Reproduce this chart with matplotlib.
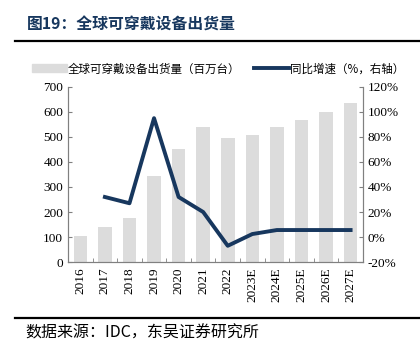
import numpy as np
import matplotlib
matplotlib.use('Agg')
import matplotlib.pyplot as plt
from matplotlib.patches import Patch
from matplotlib.lines import Line2D

plt.rcParams['font.family'] = ['Liberation Serif', 'Noto Sans CJK SC']

# 数据
years = ['2016', '2017', '2018', '2019', '2020', '2021', '2022',
         '2023E', '2024E', '2025E', '2026E', '2027E']
shipments = [105, 140, 178, 343, 450, 538, 497, 508, 538, 568, 600, 634]
growth = [np.nan, 32, 27, 95, 32, 20, -7, 2.4, 5.6, 5.6, 5.6, 5.6]

navy = '#17375E'
bar_gray = '#DCDCDC'
spine_gray = '#808080'
cjk = ['Noto Sans CJK SC', 'Liberation Serif']

fig = plt.figure(figsize=(4.2, 3.59), dpi=100)
ax = fig.add_axes([0.162, 0.270, 0.702, 0.488])
ax2 = ax.twinx()

x = np.arange(len(years))
ax.bar(x, shipments, width=0.55, color=bar_gray, zorder=1)
ax2.plot(x, growth, color=navy, lw=2.8, zorder=3)

ax.set_xlim(-0.5, len(years) - 0.5)
ax.set_ylim(0, 700)
ax.set_yticks(range(0, 701, 100))
ax2.set_ylim(-20, 120)
ax2.set_yticks(range(-20, 121, 20))
ax2.set_yticklabels([f'{v}%' for v in range(-20, 121, 20)])

ax.set_xticks(x)
ax.set_xticklabels(years, rotation=90)
ax.set_xticks(np.arange(-0.5, len(years)), minor=True)
ax.tick_params(axis='x', which='major', length=0, pad=4)
ax.tick_params(axis='x', which='minor', direction='in', length=3, color=spine_gray)
ax.tick_params(axis='y', direction='in', length=3, color=spine_gray, labelsize=9.5)
ax2.tick_params(axis='y', direction='in', length=3, color=spine_gray, labelsize=9.5)
ax.tick_params(axis='x', labelsize=9.5)

for a in (ax, ax2):
    a.spines['top'].set_visible(False)
    for s in ('left', 'right', 'bottom'):
        a.spines[s].set_color(spine_gray)
        a.spines[s].set_linewidth(0.8)
ax.set_zorder(ax2.get_zorder() - 1)
ax2.patch.set_visible(False)
ax.patch.set_visible(False)

# 图例
handles = [Patch(color=bar_gray), Line2D([0], [0], color=navy, lw=2.8)]
labels = ['全球可穿戴设备出货量（百万台）', '同比增速（%，右轴）']
fig.legend(handles, labels, loc='center left', bbox_to_anchor=(0.076, 0.808), ncol=2,
           frameon=False, prop={'family': cjk, 'size': 8.3},
           handlelength=3.0, columnspacing=1.2, handletextpad=0.1,
           borderpad=0, borderaxespad=0)

# 标题与来源
fig.text(0.064, 0.932, '图19：全球可穿戴设备出货量', family=cjk, fontsize=11.4,
         fontweight='bold', color=navy, va='center')
fig.add_artist(Line2D([0.036, 1.0], [0.887, 0.887], color='black', lw=1.6))
fig.add_artist(Line2D([0.036, 1.0], [0.114, 0.114], color='black', lw=1.6))
fig.text(0.06, 0.072, '数据来源：IDC，东吴证券研究所', family=cjk, fontsize=11.5,
         color='black', va='center')

fig.savefig('out.png', dpi=100)
